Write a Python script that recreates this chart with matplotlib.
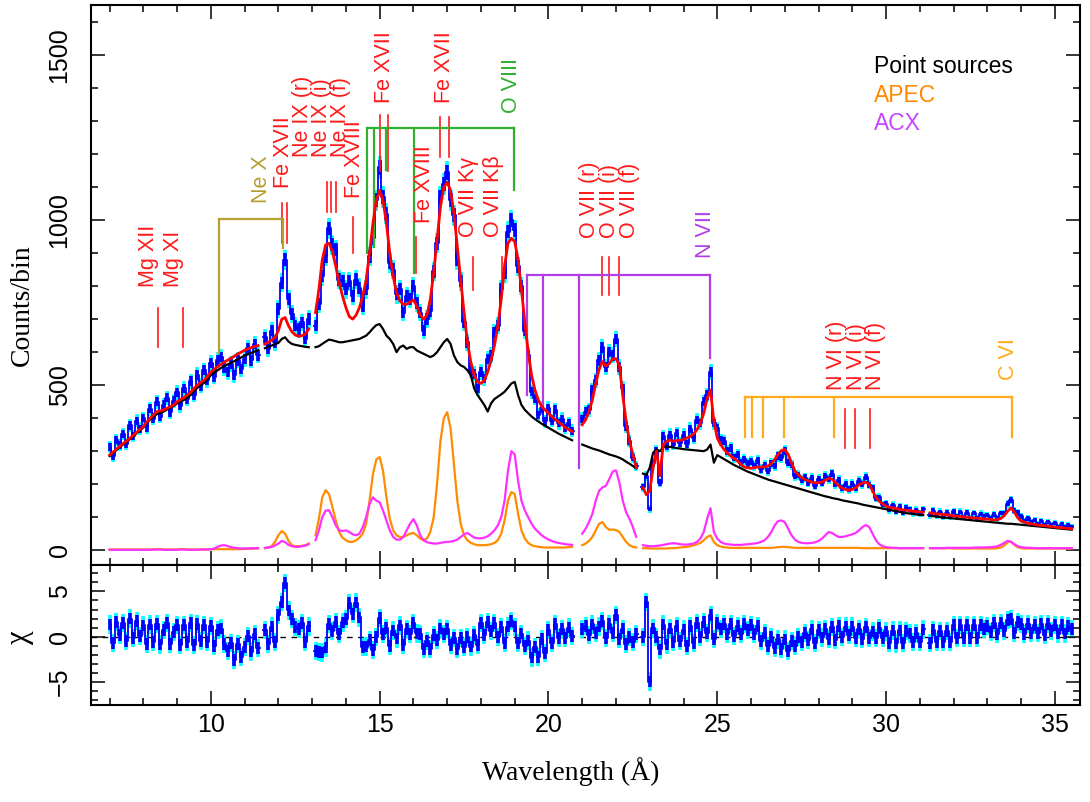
import numpy as np
import matplotlib.pyplot as plt
from matplotlib.ticker import MultipleLocator

plt.rcParams['font.family'] = ['Liberation Sans', 'DejaVu Sans']
SERIF = ['Liberation Serif', 'DejaVu Serif']
nan = np.nan

# RGS spectrum, 0.1 A bins from 7.0 to 35.5 A
wave = np.round(np.arange(7.0, 35.55, 0.1), 1)

counts = np.array([
    312, 285, 335, 318, 352, 322, 378, 345, 392, 368,
    400, 372, 428, 398, 450, 405, 440, 462, 418, 452,
    478, 438, 490, 458, 512, 470, 532, 498, 545, 515,
    568, 525, 575, 585, 552, 540, 565, 530, 575, 548,
    580, 612, 575, 625, 590, nan, 645, 610, 665, 630,
    730, 810, 880, 760, 715, 680, 670, 690, 640, 700,
    nan, 680, 745, 830, 890, 975, 925, 910, 820, 815,
    790, 815, 770, 820, 795, 740, 790, 890, 945, 1060,
    1160, 1070, 1020, 870, 850, 775, 790, 720, 770, 760,
    800, 750, 720, 665, 700, 725, 845, 930, 1070, 1110,
    1145, 1060, 1015, 880, 815, 690, 630, 545, 535, 490,
    540, 520, 580, 590, 660, 680, 790, 840, 965, 1000,
    970, 860, 800, 665, 590, 480, 460, 410, 430, 390,
    430, 392, 425, 385, 398, 370, 385, 362, nan, nan,
    398, 420, 425, 485, 515, 575, 615, 555, 600, 590,
    640, 555, 490, 375, 330, 280, 255, nan, 190, 225,
    125, 265, 300, 205, 345, 315, 350, 320, 355, 325,
    350, 322, 368, 340, 395, 385, 450, 470, 540, 385,
    370, 335, 330, 300, 310, 280, 290, 265, 275, 262,
    270, 255, 272, 245, 258, 240, 262, 255, 285, 280,
    300, 265, 258, 225, 228, 212, 220, 205, 218, 195,
    215, 205, 225, 215, 232, 200, 212, 188, 200, 185,
    200, 188, 210, 200, 222, 198, 188, 158, 160, 138,
    140, 122, 136, 118, 132, 115, 128, 124, 112, 122,
    110, 124, nan, 106, 120, 104, 116, 102, 114, 100,
    118, 102, 116, 100, 114, 98, 112, 96, 110, 104,
    106, 98, 108, 96, 112, 112, 140, 152, 120, 115,
    102, 88, 96, 84, 90, 80, 88, 76, 86, 78,
    82, 72, 80, 70, 76, 72,
], dtype=float)

model_total = np.array([
    288, 297, 306, 315, 323, 331, 339, 348, 357, 366,
    375, 388, 400, 410, 420, 422, 425, 430, 435, 440,
    450, 456, 462, 470, 478, 490, 500, 508, 515, 527,
    540, 548, 556, 563, 570, 576, 582, 588, 595, 600,
    606, 610, 614, 617, 620, nan, 625, 630, 636, 645,
    665, 700, 705, 680, 662, 652, 648, 650, 655, 670,
    nan, 720, 790, 880, 925, 930, 905, 860, 810, 770,
    735, 708, 700, 712, 735, 770, 820, 900, 990, 1060,
    1090, 1060, 990, 900, 830, 780, 755, 745, 745, 752,
    758, 740, 712, 700, 712, 760, 840, 940, 1040, 1100,
    1115, 1090, 1020, 920, 820, 720, 630, 570, 530, 510,
    505, 515, 540, 575, 620, 680, 760, 860, 930, 945,
    935, 880, 790, 690, 600, 530, 485, 455, 435, 425,
    415, 405, 396, 388, 380, 372, 365, 360, nan, nan,
    380, 395, 420, 455, 505, 548, 572, 558, 565, 580,
    580, 560, 470, 390, 330, 290, 250, nan, 190, 168,
    180, 250, 300, 225, 320, 330, 333, 330, 332, 333,
    335, 340, 345, 352, 365, 385, 415, 460, 485, 390,
    340, 320, 305, 295, 285, 278, 270, 260, 252, 250,
    248, 250, 252, 252, 252, 255, 262, 275, 290, 302,
    305, 290, 265, 240, 228, 220, 214, 210, 206, 204,
    204, 206, 212, 218, 215, 205, 195, 188, 184, 182,
    184, 190, 198, 204, 206, 200, 180, 160, 148, 140,
    133, 130, 128, 126, 124, 122, 121, 120, 118, 117,
    116, 115, nan, 113, 112, 110, 109, 108, 107, 106,
    104, 103, 102, 101, 100, 99, 98, 97, 96, 95,
    94, 93, 92, 93, 96, 105, 118, 128, 115, 98,
    88, 85, 82, 80, 78, 76, 75, 74, 73, 72,
    70, 69, 68, 67, 66, 65,
], dtype=float)

model_point = np.array([
    285, 294, 303, 312, 320, 328, 336, 345, 354, 363,
    372, 385, 396, 405, 412, 415, 420, 426, 432, 437,
    445, 450, 455, 462, 470, 482, 492, 500, 507, 518,
    530, 538, 545, 552, 558, 563, 568, 573, 579, 584,
    590, 594, 598, 602, 606, nan, 612, 616, 620, 624,
    628, 640, 645, 632, 625, 622, 620, 618, 616, 615,
    nan, 615, 618, 625, 632, 638, 636, 633, 630, 630,
    632, 634, 636, 638, 640, 645, 650, 660, 672, 682,
    685, 670, 650, 640, 625, 600, 615, 620, 610, 615,
    615, 605, 600, 595, 590, 585, 590, 600, 615, 630,
    640, 625, 590, 570, 560, 555, 545, 530, 490, 470,
    455, 440, 420, 445, 458, 465, 472, 480, 492, 505,
    510, 470, 440, 425, 415, 405, 397, 390, 383, 377,
    371, 365, 359, 353, 348, 343, 338, 333, nan, nan,
    320, 316, 312, 308, 305, 302, 298, 294, 290, 287,
    284, 280, 275, 268, 262, 255, 248, nan, 232, 228,
    250, 295, 305, 300, 312, 314, 313, 311, 309, 308,
    306, 305, 304, 303, 302, 301, 300, 305, 320, 265,
    288, 282, 276, 270, 264, 258, 253, 248, 243, 238,
    234, 230, 226, 222, 218, 214, 211, 208, 205, 202,
    199, 196, 193, 190, 187, 184, 181, 178, 175, 172,
    169, 166, 163, 161, 158, 156, 154, 151, 149, 147,
    145, 143, 141, 138, 136, 134, 132, 130, 128, 126,
    124, 122, 120, 118, 116, 114, 112, 111, 110, 108,
    107, 106, nan, 104, 103, 102, 100, 99, 98, 97,
    96, 95, 94, 93, 92, 91, 90, 89, 88, 87,
    86, 85, 84, 83, 82, 81, 80, 80, 79, 78,
    77, 76, 75, 74, 73, 72, 71, 70, 69, 68,
    67, 66, 65, 64, 63, 62,
], dtype=float)

model_apec = np.array([
    2, 2, 2, 2, 2, 2, 2, 2, 2, 2,
    2, 2, 2, 2, 3, 3, 2, 2, 2, 2,
    2, 3, 3, 2, 2, 2, 2, 2, 2, 2,
    3, 3, 3, 3, 3, 3, 3, 3, 3, 3,
    4, 4, 4, 5, 5, nan, 6, 8, 12, 25,
    45, 58, 50, 28, 15, 12, 12, 13, 15, 20,
    nan, 45, 95, 160, 182, 170, 130, 90, 55, 38,
    30, 25, 25, 30, 38, 50, 80, 150, 230, 275,
    282, 240, 160, 95, 60, 45, 40, 40, 45, 50,
    52, 45, 35, 30, 35, 55, 100, 200, 330, 400,
    418, 370, 260, 150, 80, 45, 30, 22, 18, 15,
    15, 15, 16, 18, 22, 30, 50, 90, 150, 176,
    170, 110, 60, 35, 22, 15, 12, 10, 9, 8,
    8, 8, 8, 8, 8, 8, 9, 10, nan, nan,
    15, 20, 28, 40, 60, 80, 85, 70, 62, 62,
    61, 55, 40, 25, 15, 10, 8, nan, 6, 6,
    5, 5, 5, 5, 5, 5, 6, 6, 7, 8,
    9, 10, 12, 15, 18, 22, 30, 40, 45, 25,
    15, 11, 9, 8, 7, 7, 7, 7, 7, 7,
    7, 7, 7, 7, 7, 7, 7, 8, 9, 10,
    10, 9, 8, 7, 7, 7, 7, 7, 7, 7,
    7, 7, 7, 7, 7, 7, 7, 7, 7, 7,
    7, 7, 7, 6, 6, 6, 6, 6, 6, 6,
    6, 6, 6, 6, 6, 6, 6, 6, 6, 6,
    6, 6, nan, 6, 6, 6, 6, 6, 6, 6,
    5, 5, 5, 5, 5, 5, 5, 5, 5, 5,
    5, 5, 5, 6, 8, 14, 24, 26, 16, 9,
    6, 5, 5, 5, 5, 5, 5, 5, 5, 5,
    5, 5, 5, 5, 5, 5,
], dtype=float)

model_acx = np.array([
    1, 1, 1, 1, 1, 1, 1, 1, 1, 1,
    1, 1, 1, 2, 2, 2, 1, 1, 1, 1,
    1, 2, 2, 1, 1, 1, 1, 2, 2, 2,
    3, 5, 10, 14, 15, 12, 9, 7, 6, 5,
    5, 5, 6, 6, 6, nan, 7, 8, 10, 14,
    20, 28, 24, 16, 12, 10, 10, 12, 14, 18,
    nan, 30, 60, 100, 120, 121, 100, 75, 60, 58,
    60, 55, 48, 45, 50, 70, 100, 140, 160, 150,
    145, 120, 90, 60, 40, 32, 32, 40, 60, 80,
    94, 75, 45, 30, 24, 22, 20, 20, 22, 24,
    25, 26, 28, 32, 40, 48, 52, 45, 38, 36,
    36, 38, 42, 50, 60, 75, 100, 150, 240, 300,
    290, 210, 150, 120, 100, 80, 65, 55, 45, 38,
    32, 28, 24, 22, 20, 18, 17, 16, nan, nan,
    50, 65, 85, 110, 150, 180, 190, 195, 215, 238,
    242, 205, 150, 115, 95, 70, 40, nan, 15, 13,
    12, 12, 13, 14, 16, 18, 20, 21, 20, 18,
    17, 17, 18, 20, 25, 35, 55, 95, 127, 55,
    35, 25, 20, 18, 17, 16, 16, 16, 17, 18,
    19, 20, 22, 25, 30, 40, 55, 75, 88, 90,
    85, 65, 45, 32, 25, 22, 21, 21, 22, 24,
    28, 35, 45, 55, 52, 45, 40, 40, 42, 45,
    48, 52, 60, 70, 76, 70, 50, 30, 18, 12,
    9, 8, 7, 7, 6, 6, 6, 6, 6, 6,
    6, 6, nan, 6, 6, 6, 6, 6, 7, 7,
    7, 7, 7, 7, 7, 7, 8, 8, 8, 8,
    9, 9, 10, 12, 16, 22, 28, 25, 18, 12,
    9, 8, 7, 7, 6, 6, 6, 6, 6, 6,
    6, 6, 6, 6, 6, 6,
], dtype=float)

# Poisson errors and fit residuals
err = np.sqrt(counts)
chi = (counts - model_total) / err

# Line identifications: text, label x, label base y, colour
RED = '#ff1a1a'
OLIVE = '#b5a032'
GREEN = '#2fb02f'
PURPLE = '#b43ce6'
GOLD = '#ffac1c'
line_labels = [
    ('Mg XII', 8.15, 797, RED), ('Mg XI', 8.89, 797, RED),
    ('Ne X', 11.5, 1051, OLIVE), ('Fe XVII', 12.15, 1097, RED),
    ('Ne IX (r)', 12.70, 1191, RED), ('Ne IX (i)', 13.27, 1191, RED),
    ('Ne IX (f)', 13.83, 1191, RED), ('Fe XVIII', 14.24, 1067, RED),
    ('Fe XVII', 15.14, 1355, RED), ('Fe XVII', 16.92, 1355, RED),
    ('O VIII', 18.90, 1324, GREEN), ('Fe XVIII', 16.32, 990, RED),
    ('O VII K\u03b3', 17.63, 948, RED), ('O VII K\u03b2', 18.37, 948, RED),
    ('O VII (r)', 21.21, 945, RED), ('O VII (i)', 21.80, 945, RED),
    ('O VII (f)', 22.39, 945, RED), ('N VII', 24.65, 885, PURPLE),
    ('N VI (r)', 28.54, 485, RED), ('N VI (i)', 29.12, 485, RED),
    ('N VI (f)', 29.70, 485, RED), ('C VI', 33.63, 515, GOLD),
]

# Single line markers: wavelength, y from, y to
red_ticks = [
    (8.42, 615, 733), (9.17, 615, 733),
    (12.12, 930, 1051), (12.26, 930, 1051),
    (13.45, 1024, 1115), (13.55, 1024, 1115), (13.70, 1024, 1115),
    (14.21, 900, 1009),
    (15.01, 1150, 1318), (15.26, 1150, 1318),
    (16.78, 1191, 1312), (17.05, 1191, 1312),
    (16.07, 839, 948),
    (17.77, 788, 888), (18.63, 788, 888),
    (21.60, 773, 888), (21.80, 773, 888), (22.10, 773, 888),
    (28.79, 309, 427), (29.08, 309, 427), (29.53, 309, 427),
]

# Lyman series combs: colour, bar height, (wavelength, lower end)
combs = [
    (OLIVE, 1003, [(10.24, 597), (12.13, 915)]),
    (GREEN, 1279, [(14.63, 900), (14.82, 918), (15.18, 1152),
                   (16.01, 839), (18.97, 1091)]),
    (PURPLE, 833, [(19.36, 470), (19.83, 440), (20.91, 250), (24.78, 582)]),
    (GOLD, 464, [(25.83, 342), (26.03, 342), (26.36, 342), (26.99, 342),
                 (28.47, 342), (33.74, 342)]),
]

fig = plt.figure(figsize=(10.9, 8.02), dpi=100)
ax = fig.add_axes([0.0835, 0.2955, 0.9075, 0.6983])
axr = fig.add_axes([0.0835, 0.121, 0.9075, 0.1745], sharex=ax)

# spectrum with error bars and model components
ax.vlines(wave, counts - err, counts + err, color='#00ffff', lw=2.6, zorder=1)
ax.vlines(wave, counts - 0.65 * err, counts + 0.65 * err, color='#0000ff',
          lw=2.6, zorder=1.5)
ax.step(wave, counts, where='mid', color='#0000ff', lw=1.3, zorder=1.6)
ax.plot(wave, model_apec, color='#ff8c00', lw=1.6, zorder=2)
ax.plot(wave, model_acx, color='#ff30ff', lw=1.6, zorder=2)
ax.plot(wave, model_point, color='black', lw=1.6, zorder=3)
ax.plot(wave, model_total, color='#ff0000', lw=2.0, zorder=4)

for x, y0, y1 in red_ticks:
    ax.plot([x, x], [y0, y1], color=RED, lw=1.2)
for color, ybar, teeth in combs:
    xs = [t[0] for t in teeth]
    ax.plot([min(xs), max(xs)], [ybar, ybar], color=color, lw=1.6)
    for x, ylow in teeth:
        ax.plot([x, x], [ylow, ybar], color=color, lw=1.6)
for text, x, y, color in line_labels:
    ax.text(x, y, text, rotation=90, ha='center', va='bottom',
            color=color, fontsize=15.5)

ax.text(0.792, 0.891, 'Point sources', transform=ax.transAxes, va='center',
        color='black', fontsize=16.5)
ax.text(0.792, 0.839, 'APEC', transform=ax.transAxes, va='center',
        color='#ff8800', fontsize=16.5)
ax.text(0.792, 0.789, 'ACX', transform=ax.transAxes, va='center',
        color='#c846ff', fontsize=16.5)

# residual panel
axr.axhline(0, color='black', lw=1.0, ls=(0, (4, 4)), zorder=0.5)
axr.vlines(wave, chi - 1, chi + 1, color='#00ffff', lw=2.6, zorder=1)
axr.vlines(wave, chi - 0.65, chi + 0.65, color='#0000ff', lw=2.6, zorder=1.5)
axr.step(wave, chi, where='mid', color='#0000ff', lw=1.3, zorder=1.6)

ax.set_xlim(6.45, 35.75)
ax.set_ylim(-45, 1652)
axr.set_ylim(-7.5, 7.9)

for a in (ax, axr):
    a.xaxis.set_major_locator(MultipleLocator(5))
    a.xaxis.set_minor_locator(MultipleLocator(1))
    a.tick_params(which='both', direction='in', top=True, right=True,
                  width=1.1, labelsize=18)
    a.tick_params(which='major', length=10)
    a.tick_params(which='minor', length=5)
    a.tick_params(axis='y', labelrotation=90, pad=14)
    a.tick_params(axis='x', pad=6)
    for s in a.spines.values():
        s.set_linewidth(1.5)
ax.tick_params(labelbottom=False)
ax.yaxis.set_major_locator(MultipleLocator(500))
ax.yaxis.set_minor_locator(MultipleLocator(100))
axr.yaxis.set_major_locator(MultipleLocator(5))
axr.yaxis.set_minor_locator(MultipleLocator(1))
for lab in ax.get_yticklabels() + axr.get_yticklabels():
    lab.set_va('center')

fig.text(22 / 1090, 1 - 305 / 802, 'Counts/bin', rotation=90, ha='center',
         va='center', family=SERIF, fontsize=20)
fig.text(20 / 1090, 1 - 637 / 802, '\u03c7', rotation=90, ha='center',
         va='center', family=SERIF, fontsize=22)
fig.text(571 / 1090, 1 - 772 / 802, 'Wavelength (\u00c5)', ha='center',
         va='center', family=SERIF, fontsize=20)

fig.savefig('out.png', dpi=100)
